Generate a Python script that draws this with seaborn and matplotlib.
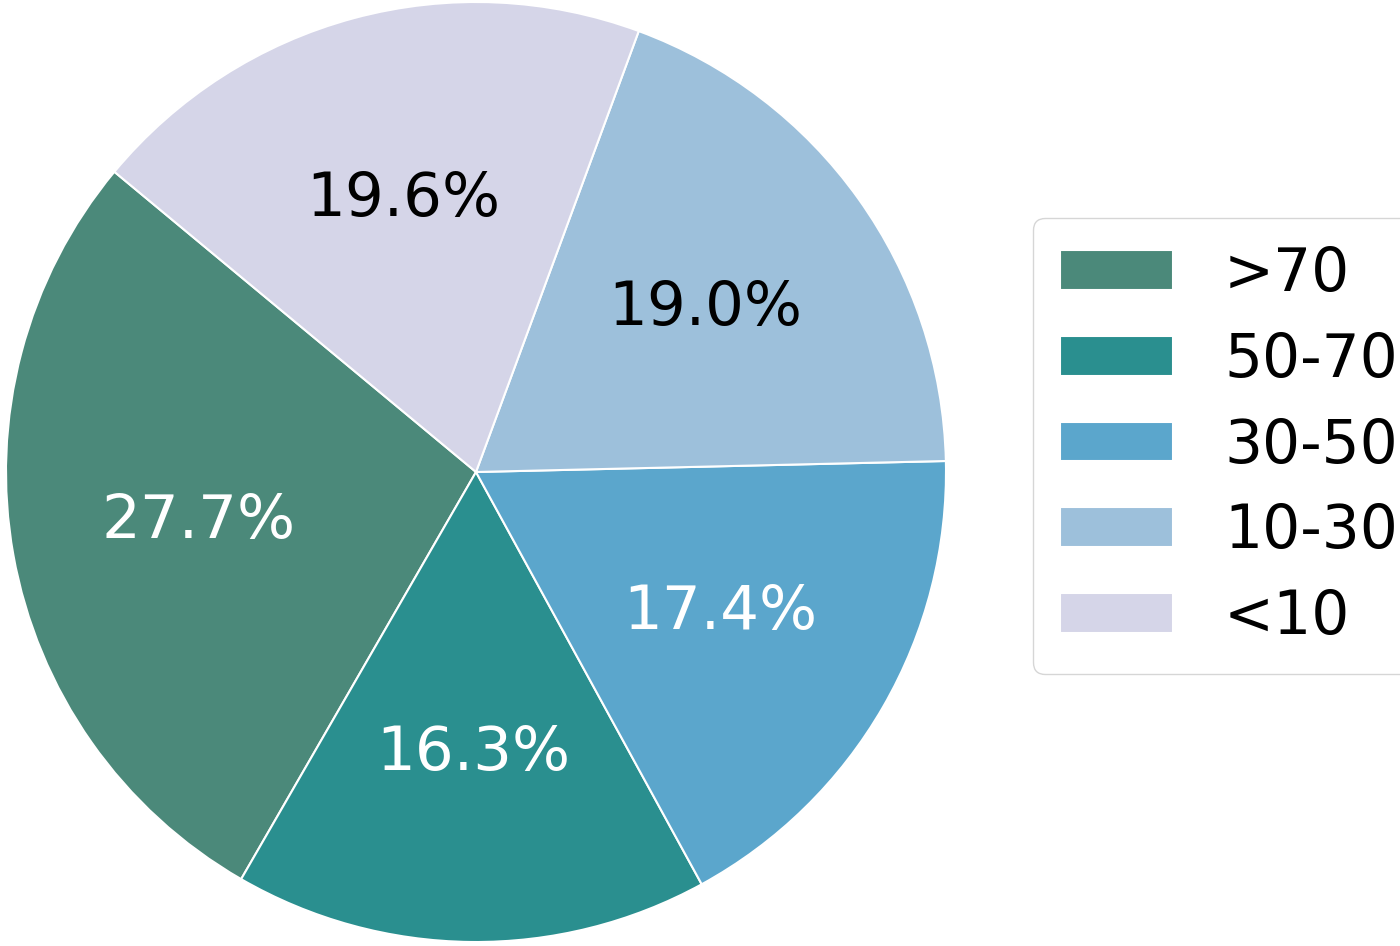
import matplotlib
matplotlib.use("Agg")
import matplotlib.pyplot as plt
import seaborn as sns

sns.set_theme(style="white")
plt.rcParams['font.family'] = ['DejaVu Sans']

labels = [">70", "50-70", "30-50", "10-30", "<10"]
values = [27.7, 16.3, 17.4, 19.0, 19.6]
colors = ["#4b897a", "#2a8f8f", "#5ba6cc", "#9dc0db", "#d5d5e8"]
text_colors = ["white", "white", "white", "black", "black"]

fig = plt.figure(figsize=(14, 9.46), dpi=100)
ax = fig.add_axes([6/1400, 4/946, 940/1400, 940/946])
wedges, texts, autotexts = ax.pie(values, colors=colors, startangle=140.3,
                                  autopct="%.1f%%", pctdistance=0.6,
                                  wedgeprops=dict(edgecolor="white", linewidth=1.5),
                                  textprops=dict(fontsize=44))
for t, c in zip(autotexts, text_colors):
    t.set_color(c)
ax.set_xlim(-1, 1)
ax.set_ylim(-1, 1)
ax.set_aspect("equal")
leg = fig.legend(wedges, labels, loc="center left", bbox_to_anchor=(1003/1400, 1-446/946),
                 fontsize=43, frameon=True, handlelength=1.9, handleheight=0.65,
                 labelspacing=0.45, handletextpad=0.85, borderpad=0.45, edgecolor="#cccccc")
for t in leg.get_texts():
    t.set_color("black")
fig.savefig("out.png", dpi=100)
